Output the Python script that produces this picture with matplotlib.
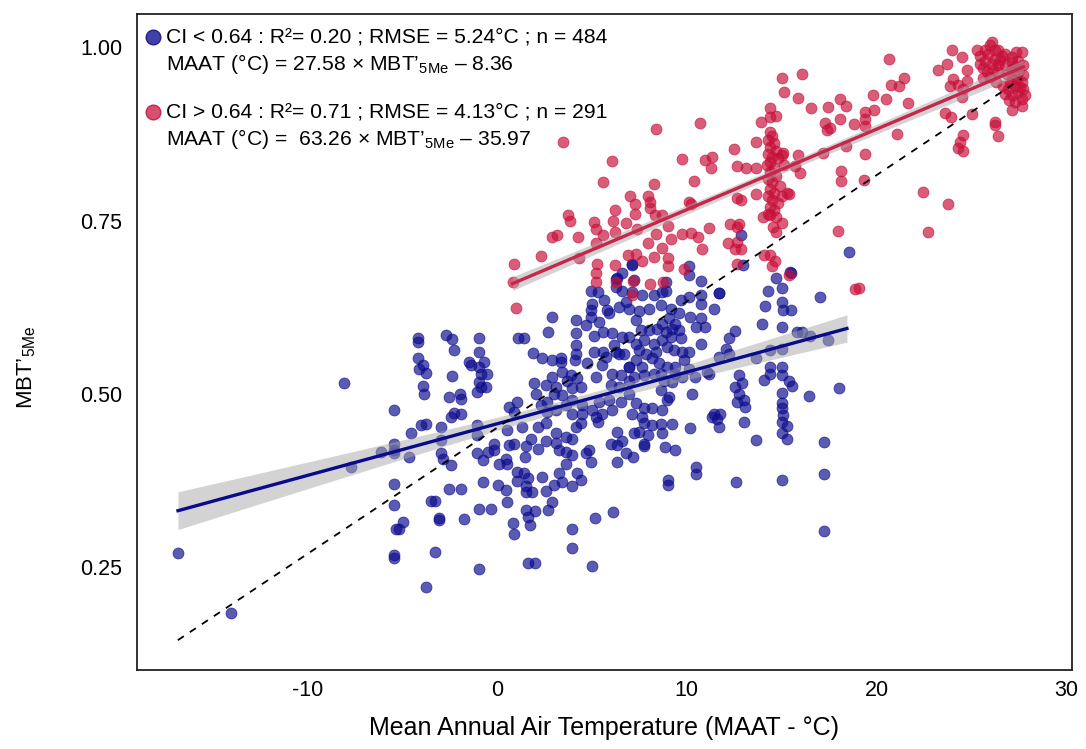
import numpy as np
import matplotlib
matplotlib.use("Agg")
import matplotlib.pyplot as plt
from matplotlib import font_manager

plt.rcParams['font.family'] = ['Liberation Sans', 'DejaVu Sans']
plt.rcParams['mathtext.fontset'] = 'custom'
plt.rcParams['mathtext.rm'] = 'Liberation Sans'
plt.rcParams['mathtext.it'] = 'Liberation Sans'
plt.rcParams['mathtext.default'] = 'regular'
plt.rcParams['axes.unicode_minus'] = False

# ---------------- data ----------------
blue_pts = [
    (7.12,0.686),(6.3,0.667),(6.56,0.675),
    (12.83,0.729),(12.96,0.686),(10.1,0.684),(10.1,0.671),(10.72,0.663),(11.68,0.645),(14.7,0.667),
    (15.51,0.675),(14.28,0.648),(15.02,0.652),(17.03,0.640),(18.53,0.704),
    (15.46,0.676),(14.14,0.627),(15.02,0.633),(15.05,0.621),(15.49,0.621),(13.96,0.60),(15.02,0.597),
    (15.8,0.589),(16.07,0.589),(16.51,0.584),(17.44,0.577),(13.62,0.551),(14.4,0.563),(15.02,0.564),
    (14.4,0.539),(15.02,0.539),(14.4,0.529),(15.02,0.527),(14.05,0.52),(15.37,0.519),(15.54,0.511),
    (16.42,0.497),(18.0,0.508),(15.02,0.501),(15.02,0.487),(15.02,0.479),(15.05,0.469),(12.74,0.527),
    (12.91,0.515),(12.56,0.510),(12.74,0.50),(13.0,0.491),(12.65,0.488),(13.09,0.481),(11.42,0.471),
    (11.77,0.471),(11.6,0.464),(10.28,0.50),(12.21,0.581),(12.56,0.590),(12.04,0.565),(11.68,0.553),
    (12.21,0.558),(11.16,0.529),(10.72,0.572),(10.42,0.524),(11.07,0.531),
    (7.12,0.688),(7.21,0.664),(7.12,0.647),(7.65,0.642),(8.26,0.642),(8.7,0.647),(8.88,0.661),
    (8.88,0.649),(9.67,0.636),(10.1,0.640),(10.72,0.630),(10.72,0.642),(11.42,0.623),(11.68,0.645),
    (6.95,0.623),(7.47,0.620),(8.0,0.623),(8.62,0.628),(9.14,0.623),(9.58,0.616),(10.19,0.611),
    (10.72,0.609),(10.98,0.596),(10.46,0.596),(9.05,0.609),(8.7,0.601),(8.44,0.594),(8.0,0.592),
    (7.56,0.592),(7.3,0.606),(9.4,0.601),(9.58,0.592),(9.23,0.594),(8.88,0.589),(9.14,0.582),
    (9.67,0.580),(8.7,0.577),(8.26,0.572),(7.74,0.577),(7.3,0.572),(6.95,0.582),(7.47,0.563),
    (7.82,0.558),(8.35,0.560),(8.96,0.568),(9.32,0.563),(9.75,0.560),(10.1,0.560),(7.3,0.548),
    (7.65,0.539),(8.17,0.551),(8.53,0.544),(8.96,0.539),(9.4,0.539),(9.84,0.548),(10.1,0.536),
    (9.75,0.524),(8.62,0.529),(8.26,0.529),(7.74,0.527),(7.21,0.524),(6.95,0.539),(9.23,0.517),
    (8.79,0.519),(8.62,0.505),(9.05,0.495),(9.4,0.529),
    (7.3,0.486),(7.74,0.479),(8.17,0.479),(8.7,0.476),(8.96,0.491),(7.65,0.467),(7.12,0.471),(11.33,0.467),
    (7.74,0.457),(8.17,0.455),(8.62,0.456),(9.23,0.456),(10.19,0.451),(11.68,0.452),(13.0,0.459),
    (7.21,0.443),(7.47,0.445),(7.96,0.44),(8.7,0.443),(7.74,0.428),(7.74,0.424),(8.84,0.423),
    (9.4,0.419),(7.16,0.409),(13.62,0.433),(15.02,0.459),(15.28,0.453),(15.02,0.443),(15.28,0.434),
    (17.25,0.430),(9.02,0.375),(9.02,0.368),(10.49,0.394),(10.49,0.384),(12.6,0.372),(15.04,0.375),
    (17.25,0.384),(17.25,0.302),
    (2.91,0.611),(2.7,0.589),(1.1,0.581),(1.42,0.581),(-4.16,0.581),(-4.16,0.575),(-2.7,0.585),
    (-2.38,0.579),(-0.95,0.581),(-2.26,0.563),(-0.95,0.56),(-4.19,0.552),(-3.93,0.541),(-3.75,0.530),
    (-4.1,0.536),(-1.47,0.546),(-1.38,0.541),(-0.95,0.539),(-0.68,0.546),(-0.86,0.529),(-0.54,0.528),
    (-2.4,0.526),(-0.95,0.517),(-0.86,0.510),(-0.59,0.510),(-1.04,0.502),(-3.89,0.511),(-3.84,0.50),
    (-2.53,0.495),(-1.95,0.50),(-1.91,0.492),(-2.26,0.472),(-1.91,0.471),(-2.44,0.467),(0.63,0.481),
    (0.89,0.474),(1.91,0.559),(2.38,0.551),(2.88,0.548),(3.35,0.552),(3.39,0.546),(4.14,0.606),
    (4.14,0.588),(4.14,0.57),(4.1,0.549),(4.67,0.599),(4.93,0.611),(4.93,0.621),(5.02,0.630),
    (4.93,0.649),(5.33,0.647),(5.63,0.635),(5.37,0.604),(5.89,0.616),(5.8,0.621),(5.58,0.589),
    (5.1,0.584),(6.25,0.666),(6.25,0.654),(6.56,0.649),(6.77,0.632),(6.42,0.625),(6.07,0.587),
    (6.59,0.582),(6.16,0.570),(6.42,0.558),(5.58,0.56),(5.1,0.56),(5.54,0.541),(4.75,0.544),
    (5.2,0.524),(4.14,0.558),
    (5.72,0.553),(6.25,0.560),(6.68,0.558),(6.07,0.529),(6.51,0.527),(6.95,0.539),(5.98,0.512),
    (6.42,0.510),(6.95,0.519),(5.89,0.491),(6.51,0.488),(6.95,0.50),(5.37,0.488),(5.54,0.471),
    (6.07,0.476),(5.02,0.476),(4.49,0.483),(3.96,0.491),(3.44,0.498),(3.09,0.510),(2.91,0.524),
    (3.44,0.531),(3.88,0.527),(4.23,0.522),(4.4,0.510),(3.96,0.508),(3.7,0.519),(1.95,0.515),
    (2.56,0.512),(2.65,0.488),(3.0,0.50),(2.3,0.483),(2.65,0.474),(3.09,0.476),(3.61,0.483),
    (3.96,0.471),(4.49,0.471),(5.2,0.467),(1.07,0.488),(2.04,0.50),
    (-4.54,0.443),(-4.02,0.455),(-3.75,0.456),(-2.96,0.452),(-2.96,0.433),(-4.67,0.409),(-2.96,0.414),
    (-2.88,0.406),(-2.44,0.397),(-1.04,0.455),(-1.04,0.44),(-1.04,0.414),(-0.77,0.404),(-0.51,0.416),
    (-0.16,0.418),(-0.16,0.428),(0.1,0.399),(0.54,0.399),(0.46,0.406),(0.54,0.448),(1.33,0.452),
    (0.63,0.426),(0.89,0.428),(1.51,0.424),(1.77,0.435),(2.17,0.452),(2.56,0.457),(3.09,0.443),
    (3.61,0.438),(3.96,0.435),(4.14,0.452),(4.4,0.457),(2.56,0.431),(3.09,0.429),(2.17,0.420),
    (3.26,0.418),(3.61,0.416),(3.96,0.411),(1.47,0.409),(3.61,0.399),(1.07,0.387),(1.42,0.385),
    (1.6,0.378),(1.07,0.374),(1.51,0.366),(1.86,0.358),(1.51,0.358),(2.38,0.380),(2.56,0.359),
    (3.0,0.368),(3.26,0.386),(3.44,0.373),(3.96,0.366),(4.23,0.386),(4.4,0.375),(4.67,0.414),
    (4.84,0.418),(4.93,0.402),(5.33,0.459),(5.98,0.428),(6.33,0.426),(6.6,0.431),(6.77,0.414),
    (6.33,0.445),(6.33,0.402),(-0.77,0.373),(0.02,0.368),(0.46,0.361),(0.54,0.344),(-2.53,0.362),
    (-1.91,0.363),(-3.49,0.345),(-3.26,0.345),(-0.95,0.334),(-0.33,0.334),(-3.09,0.320),(-3.09,0.317),
    (-1.74,0.319),(-4.95,0.314),(-5.16,0.304),(0.81,0.313),(0.86,0.298),(1.74,0.311),(1.51,0.332),
    (1.6,0.322),(2.0,0.330),(2.68,0.332),(2.91,0.344),(3.93,0.304),(3.93,0.277),(5.14,0.320),
    (6.1,0.329),(-3.26,0.271),(-0.95,0.247),(1.6,0.255),(2.0,0.255),(5.02,0.251),(-3.75,0.221),
    (-16.83,0.270),(-14.02,0.184),(-7.7,0.394),(-6.12,0.416),(-5.42,0.428),(-5.42,0.418),(-5.42,0.414),
    (-5.42,0.370),(-5.42,0.339),(-5.33,0.304),(-5.42,0.267),(-5.42,0.262),(-8.09,0.516),(-5.46,0.477),
]
blue_x = [p[0] for p in blue_pts]
blue_y = [p[1] for p in blue_pts]

red_pts = [
    (8.35,0.882),(3.47,0.864),(6.04,0.836),(5.58,0.806),(8.26,0.803),(6.98,0.785),(7.95,0.785),
    (7.26,0.774),(8.05,0.777),(6.21,0.765),(7.26,0.759),(8.05,0.768),(8.3,0.758),(8.7,0.758),
    (3.75,0.758),(3.84,0.75),(5.1,0.748),(6.1,0.75),(6.77,0.747),(5.23,0.738),(7.37,0.738),
    (2.91,0.727),(3.17,0.729),(4.25,0.726),(5.6,0.729),(6.21,0.733),(8.35,0.730),(9.02,0.742),
    (9.14,0.724),(5.23,0.718),(7.96,0.717),(8.7,0.710),(2.3,0.699),(4.32,0.696),(5.28,0.688),
    (6.21,0.686),(6.88,0.701),(7.3,0.702),(7.65,0.692),(8.26,0.697),(9.02,0.696),(9.02,0.685),
    (0.89,0.687),(0.81,0.662),(5.23,0.675),(5.23,0.662),(7.18,0.663),(8.05,0.659),(8.75,0.662),
    (7.12,0.643),(6.25,0.661),(0.98,0.624),
    (15.02,0.956),(16.07,0.962),(15.1,0.936),(15.86,0.927),(16.56,0.913),(17.44,0.914),(18.05,0.925),
    (18.4,0.915),(18.09,0.897),(17.3,0.891),(17.38,0.881),(17.56,0.884),(18.4,0.858),(18.79,0.89),
    (10.68,0.891),(14.4,0.912),(14.4,0.9),(14.72,0.901),(13.93,0.892),(13.62,0.864),(12.47,0.854),
    (9.72,0.839),(10.98,0.837),(11.3,0.842),(11.28,0.826),(12.65,0.829),(13.14,0.826),(13.62,0.826),
    (15.05,0.847),(15.86,0.845),(15.72,0.829),(15.98,0.819),(17.16,0.848),(18.12,0.822),(18.12,0.807),
    (10.37,0.807),(10.1,0.777),(10.2,0.774),(13.62,0.789),(12.65,0.782),(12.88,0.779),(15.37,0.788),
    (15.02,0.786),(14.02,0.755),(14.4,0.758),(14.72,0.755),(15.02,0.746),(14.54,0.741),(14.72,0.733),
    (17.96,0.735),(9.72,0.730),(10.2,0.732),(10.6,0.726),(11.16,0.739),(12.25,0.745),(12.77,0.745),
    (12.65,0.741),(12.17,0.718),(12.65,0.719),(12.83,0.709),(12.53,0.709),(10.8,0.709),(12.65,0.688),
    (14.05,0.70),(14.4,0.70),(14.49,0.685),(14.67,0.692),(9.84,0.680),(15.37,0.672),(18.88,0.651),
    (14.4,0.878),(14.5,0.872),(14.3,0.866),(14.6,0.862),(14.4,0.856),(14.7,0.851),(14.3,0.846),
    (14.5,0.842),(14.8,0.840),(14.4,0.835),(14.2,0.830),(14.6,0.826),(14.4,0.820),(14.7,0.815),
    (14.3,0.810),(14.5,0.805),(14.9,0.800),(14.4,0.796),(14.6,0.790),(14.3,0.785),(14.5,0.780),
    (14.8,0.776),(14.4,0.770),(14.6,0.765),(14.3,0.760),(15.0,0.845),(15.1,0.830),(15.3,0.79),
    (20.67,0.983),(24.0,0.997),(24.49,0.986),(23.26,0.967),(23.7,0.976),(24.75,0.967),(20.77,0.946),
    (21.16,0.944),(21.47,0.956),(19.84,0.932),(20.49,0.925),(21.65,0.920),(19.37,0.907),(19.37,0.897),
    (19.37,0.887),(19.88,0.91),(24.05,0.955),(23.88,0.945),(24.32,0.946),(24.75,0.952),(24.58,0.94),
    (24.49,0.928),(23.6,0.906),(23.93,0.90),(25.05,0.904),(21.07,0.875),(24.58,0.873),(24.4,0.863),
    (24.32,0.855),(24.58,0.851),(26.25,0.893),(26.25,0.888),(26.42,0.872),(19.37,0.846),(19.32,0.808),
    (22.44,0.791),(23.79,0.774),(22.7,0.733),(19.05,0.652),
    (25.28,0.996),(25.46,0.988),(25.72,0.996),(25.98,1.003),(26.07,1.008),(26.25,0.996),(26.42,0.997),
    (26.6,0.988),(26.77,0.991),(27.12,0.986),(27.38,0.993),(27.65,0.994),(25.46,0.976),(25.72,0.981),
    (26.07,0.976),(26.25,0.984),(26.42,0.974),(25.81,0.964),(26.16,0.967),(26.42,0.964),(25.63,0.956),
    (26.77,0.974),(27.12,0.979),(27.47,0.981),(27.74,0.974),(27.12,0.969),(27.47,0.964),(27.74,0.960),
    (27.12,0.955),(27.3,0.945),(27.47,0.936),(27.65,0.926),(27.65,0.916),(27.12,0.909),(26.77,0.933),
    (27.12,0.931),(27.82,0.931),(27.65,0.950),(27.3,0.921),(26.95,0.940),(26.68,0.945),(27.04,0.948),
    (27.56,0.943),(25.9,0.990),(26.5,0.982),(26.9,0.962),(27.3,0.972),(25.6,0.971),(26.0,0.958),
    (27.0,0.924),(27.4,0.955),(26.3,0.950),(27.7,0.940),
]
red_x = [p[0] for p in red_pts]
red_y = [p[1] for p in red_pts]

# regression lines (intercept, slope, x-range) and band half-widths
blue_fit = dict(a=0.4566, b=0.00746, x0=-16.83, x1=18.44, xm=4.0, h0=0.008, k=0.00125)
red_fit = dict(a=0.6496, b=0.01162, x0=0.81, x1=27.74, xm=14.0, h0=0.006, k=0.0006)
ref_line = dict(a=0.451, b=0.01823, x0=-16.84, x1=27.65)

x_ticks = [-10, 0, 10, 20, 30]
y_ticks = [0.25, 0.50, 0.75, 1.00]
y_ticklabels = ['0.25', '0.50', '0.75', '1.00']

blue_text1 = "CI < 0.64 : R²= 0.20 ; RMSE = 5.24°C ; n = 484"
blue_text2 = "MAAT (°C) = 27.58 × MBT’$_{5Me}$ – 8.36"
red_text1 = "CI > 0.64 : R²= 0.71 ; RMSE = 4.13°C ; n = 291"
red_text2 = "MAAT (°C) =  63.26 × MBT’$_{5Me}$ – 35.97"

BLUE = '#0d0d8f'
RED = '#c8103a'

# narrow font for tick labels if available
names = {f.name for f in font_manager.fontManager.ttflist}
tick_family = ['Liberation Sans Narrow'] if 'Liberation Sans Narrow' in names else ['Liberation Sans']
tick_size = 18.5 if 'Liberation Sans Narrow' in names else 15.5

# ---------------- figure ----------------
fig = plt.figure(figsize=(10.86, 7.49), dpi=100)
ax = fig.add_axes([0.126, 0.1055, 0.861, 0.8755])

ax.scatter(blue_x, blue_y, s=62, c=BLUE, alpha=0.68, edgecolors=BLUE, linewidths=0.6, zorder=2)
ax.scatter(red_x, red_y, s=62, c=RED, alpha=0.68, edgecolors=RED, linewidths=0.6, zorder=2)

for fit, col in [(blue_fit, '#0a0a8c'), (red_fit, '#c8254a')]:
    xs = np.linspace(fit['x0'], fit['x1'], 100)
    ys = fit['a'] + fit['b'] * xs
    hw = np.sqrt(fit['h0'] ** 2 + (fit['k'] * (xs - fit['xm'])) ** 2)
    ax.fill_between(xs, ys - hw, ys + hw, color='#a8a8a8', alpha=0.5, lw=0, zorder=3)
    ax.plot(xs, ys, color=col, lw=2.4, zorder=4)

xr = np.array([ref_line['x0'], ref_line['x1']])
ax.plot(xr, ref_line['a'] + ref_line['b'] * xr, color='black', lw=1.3,
        dashes=(4, 4), zorder=5)

ax.set_xlim(-19.0, 30.3)
ax.set_ylim(0.101, 1.048)
ax.set_xticks(x_ticks)
ax.set_xticklabels([str(t) for t in x_ticks], family=tick_family, fontsize=tick_size)
ax.set_yticks(y_ticks)
ax.set_yticklabels(y_ticklabels, family=tick_family, fontsize=tick_size)
ax.tick_params(length=0, colors='black')
ax.tick_params(axis='x', pad=7)
ax.tick_params(axis='y', pad=10.5)
for sp in ax.spines.values():
    sp.set_linewidth(1.3)
    sp.set_color('#222222')

ax.set_xlabel("Mean Annual Air Temperature (MAAT - °C)", fontsize=18, labelpad=11)
ax.set_ylabel("MBT’$_{5Me}$", fontsize=16)
ax.yaxis.set_label_coords(-0.106, 0.462)

# annotation block
ax.plot([0.0175], [0.965], marker='o', ms=10.5, color='#4040a8', mec='#202090',
        transform=ax.transAxes, clip_on=False, zorder=6)
ax.plot([0.0175], [0.851], marker='o', ms=10.5, color='#d65070', mec='#c8254a',
        transform=ax.transAxes, clip_on=False, zorder=6)
fs = 15.2
ax.text(0.031, 0.965, blue_text1, transform=ax.transAxes, fontsize=fs, va='center', ha='left')
ax.text(0.031, 0.924, blue_text2, transform=ax.transAxes, fontsize=fs, va='center', ha='left')
ax.text(0.031, 0.851, red_text1, transform=ax.transAxes, fontsize=fs, va='center', ha='left')
ax.text(0.031, 0.810, red_text2, transform=ax.transAxes, fontsize=fs, va='center', ha='left')

fig.savefig("out.png", dpi=100)
